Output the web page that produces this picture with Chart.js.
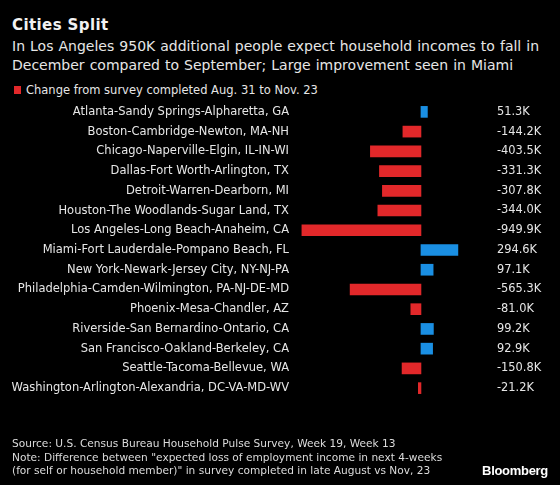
<!DOCTYPE html>
<html>
<head>
<meta charset="utf-8">
<script src="https://cdn.jsdelivr.net/npm/chart.js@4"></script>
<style>
  body { margin: 0; background: #000; width: 560px; height: 485px; overflow: hidden; position: relative;
         font-family: "DejaVu Sans", sans-serif; color: #e6e6e6; }
  #title { position: absolute; left: 12px; top: 16px; font-size: 15px; line-height: 18px; font-weight: bold; color: #f2f2f2;
           letter-spacing: 0.4px; }
  #sub { position: absolute; left: 12px; top: 37px; font-size: 14px; line-height: 19px; color: #e6e6e6; white-space: nowrap;
         word-spacing: 0.6px; }
  #legend { position: absolute; left: 14px; top: 83px; font-size: 11.5px; line-height: 14px; white-space: nowrap; }
  #legend span { display: inline-block; width: 7px; height: 8px; background: #e2282a; margin-right: 5px; }
  #foot { position: absolute; left: 12px; top: 437px; font-size: 10.6px; line-height: 13.5px; color: #dcdcdc; white-space: nowrap; }
  #logo { position: absolute; right: 12px; top: 463px; font-size: 13px; line-height: 16px; font-weight: bold; color: #fff;
          font-family: "Liberation Sans", Arial, sans-serif; letter-spacing: -0.3px; }
  #wrap { position: absolute; left: 0; top: 0; width: 560px; height: 485px; }
</style>
</head>
<body>
<div id="title">Cities Split</div>
<div id="sub">In Los Angeles 950K additional people expect household incomes to fall in<br>December compared to September; Large improvement seen in Miami</div>
<div id="legend"><span></span>Change from survey completed Aug. 31 to Nov. 23</div>
<div id="wrap"><canvas id="chart"></canvas></div>
<div id="foot">Source: U.S. Census Bureau Household Pulse Survey, Week 19, Week 13<br>Note: Difference between "expected loss of employment income in next 4-weeks<br>(for self or household member)" in survey completed in late August vs Nov, 23</div>
<div id="logo">Bloomberg</div>
<script>
const cities = [
  "Atlanta-Sandy Springs-Alpharetta, GA",
  "Boston-Cambridge-Newton, MA-NH",
  "Chicago-Naperville-Elgin, IL-IN-WI",
  "Dallas-Fort Worth-Arlington, TX",
  "Detroit-Warren-Dearborn, MI",
  "Houston-The Woodlands-Sugar Land, TX",
  "Los Angeles-Long Beach-Anaheim, CA",
  "Miami-Fort Lauderdale-Pompano Beach, FL",
  "New York-Newark-Jersey City, NY-NJ-PA",
  "Philadelphia-Camden-Wilmington, PA-NJ-DE-MD",
  "Phoenix-Mesa-Chandler, AZ",
  "Riverside-San Bernardino-Ontario, CA",
  "San Francisco-Oakland-Berkeley, CA",
  "Seattle-Tacoma-Bellevue, WA",
  "Washington-Arlington-Alexandria, DC-VA-MD-WV"
];
// change in thousands of people
const change = [51.3, -144.2, -403.5, -331.3, -307.8, -344.0, -949.9, 294.6, 97.1, -565.3, -81.0, 99.2, 92.9, -150.8, -21.2];

const RED = '#e2282a';
const BLUE = '#1a8fe3';
const FONT = '"DejaVu Sans", sans-serif';

const valueLabels = {
  id: 'valueLabels',
  afterDatasetsDraw(chart) {
    const ctx = chart.ctx;
    const meta = chart.getDatasetMeta(0);
    ctx.save();
    ctx.font = '11.4px ' + FONT;
    ctx.fillStyle = '#e6e6e6';
    ctx.textAlign = 'left';
    ctx.textBaseline = 'middle';
    meta.data.forEach((bar, i) => {
      ctx.fillText(change[i].toFixed(1) + 'K', 497, bar.y);
    });
    ctx.restore();
  }
};

new Chart(document.getElementById('chart'), {
  type: 'bar',
  data: {
    labels: cities,
    datasets: [{
      label: 'Change from survey completed Aug. 31 to Nov. 23',
      data: change,
      backgroundColor: change.map(v => v < 0 ? RED : BLUE),
      barThickness: 11,
      borderWidth: 0
    }]
  },
  options: {
    indexAxis: 'y',
    responsive: true,
    maintainAspectRatio: false,
    animation: false,
    layout: { padding: { top: 102, bottom: 87, left: 0, right: 80 } },
    plugins: { legend: { display: false }, tooltip: { enabled: false } },
    scales: {
      x: { display: false, min: -1005, max: 471 },
      y: {
        grid: { display: false, drawTicks: false },
        border: { display: false },
        ticks: {
          color: '#e6e6e6',
          padding: 6,
          font: { family: FONT, size: 11.5 }
        },
        afterFit(scale) { scale.width = 295; }
      }
    }
  },
  plugins: [valueLabels]
});
</script>
</body>
</html>
